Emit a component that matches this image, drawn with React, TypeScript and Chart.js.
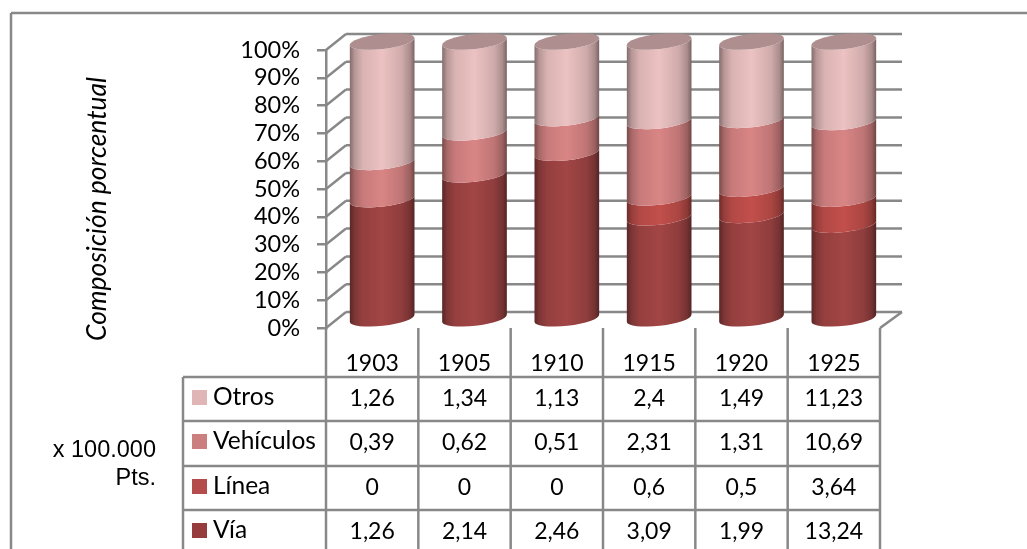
import React, { useEffect, useRef } from "react";
import { Chart, registerables } from "chart.js";

Chart.register(...registerables);

const years = ["1903", "1905", "1910", "1915", "1920", "1925"];
const otros = [1.26, 1.34, 1.13, 2.4, 1.49, 11.23];
const vehiculos = [0.39, 0.62, 0.51, 2.31, 1.31, 10.69];
const linea = [0, 0, 0, 0.6, 0.5, 3.64];
const via = [1.26, 2.14, 2.46, 3.09, 1.99, 13.24];

const yTitle = "Composición porcentual";
const unitLines = ["x 100.000", "Pts."];

// Table rows top to bottom; the columns stack in the reverse order.
const rows = [
  { label: "Otros", values: otros, swatch: "#e0b5b5", body: [236, 194, 194] },
  { label: "Vehículos", values: vehiculos, swatch: "#cb7f7f", body: [217, 133, 133] },
  { label: "Línea", values: linea, swatch: "#b34c4a", body: [194, 79, 75] },
  { label: "Vía", values: via, swatch: "#963c3c", body: [162, 69, 69] },
];
const stacked = [...rows].reverse();

const totals = years.map((_, i) => rows.reduce((sum, r) => sum + r.values[i], 0));
const share = (values: number[]) => values.map((v, i) => (v / totals[i]) * 100);

const LINE = "#888888";
const TEXT = "#000000";
const DEPTH_X = 20;
const DEPTH_Y = 16;
const BAR_SHIFT = 10;
const CAP_B = 7.5;
const CAP_TILT = -0.115;
const ROW_LINES = [377, 421, 466, 510];
const ROW_TEXT = [398, 442, 487, 531];
const LEGEND_LEFT = 183;

const SHADE: [number, number][] = [
  [0, 0.55],
  [0.08, 0.78],
  [0.2, 0.92],
  [0.5, 1],
  [0.8, 0.88],
  [0.93, 0.72],
  [1, 0.5],
];

function shaded(ctx: CanvasRenderingContext2D, l: number, r: number, rgb: number[]) {
  const g = ctx.createLinearGradient(l, 0, r, 0);
  SHADE.forEach(([stop, f]) => {
    const [a, b, c] = rgb.map((v) => Math.round(v * f));
    g.addColorStop(stop, `rgb(${a},${b},${c})`);
  });
  return g;
}

function segLine(ctx: CanvasRenderingContext2D, x1: number, y1: number, x2: number, y2: number) {
  ctx.beginPath();
  ctx.moveTo(x1, y1);
  ctx.lineTo(x2, y2);
  ctx.stroke();
}

const cylinderPlugin = {
  id: "cylinders",
  // Walls and floor sit behind the columns, which replace the flat bars.
  beforeDatasetsDraw(chart: any) {
    const { ctx, scales, chartArea } = chart;
    const y = scales.y;
    ctx.save();
    ctx.strokeStyle = LINE;
    ctx.lineWidth = 2.5;
    for (let v = 0; v <= 100; v += 10) {
      const py = y.getPixelForValue(v);
      segLine(ctx, chartArea.left, py, chartArea.left + DEPTH_X, py - DEPTH_Y);
      segLine(ctx, chartArea.left + DEPTH_X, py - DEPTH_Y, chartArea.right + DEPTH_X + 2, py - DEPTH_Y);
    }
    const floor = y.getPixelForValue(0);
    segLine(ctx, chartArea.right, floor, chartArea.right + DEPTH_X + 2, floor - DEPTH_Y);

    const metas = chart.getSortedVisibleDatasetMetas();
    metas.forEach((meta: any) => {
      const row = stacked[meta.index];
      meta.data.forEach((bar: any, i: number) => {
        if (row.values[i] === 0) return;
        const cx = bar.x + BAR_SHIFT;
        const a = bar.width / 2;
        const l = cx - a;
        const r = cx + a;
        const top = bar.y - 1 - CAP_B;
        const base = bar.base - 1 - CAP_B;
        ctx.beginPath();
        ctx.ellipse(cx, base, a, CAP_B, CAP_TILT, 0, Math.PI, false);
        ctx.ellipse(cx, top, a, CAP_B, CAP_TILT, Math.PI, 0, true);
        ctx.closePath();
        ctx.fillStyle = shaded(ctx, l, r, row.body);
        ctx.fill();
        if (meta.index === stacked.length - 1) {
          ctx.beginPath();
          ctx.ellipse(cx, top, a, CAP_B, CAP_TILT, 0, Math.PI * 2);
          ctx.fillStyle = "#ae8e8e";
          ctx.fill();
        }
      });
    });
    ctx.restore();
    return false;
  },
  // Frame, data table, legend keys and side captions.
  afterDraw(chart: any) {
    const { ctx, scales, chartArea } = chart;
    const x = scales.x;
    const bottom = chart.height;
    const band = (chartArea.right - chartArea.left) / years.length;
    ctx.save();
    ctx.strokeStyle = LINE;
    ctx.lineWidth = 2.5;
    segLine(ctx, 11, 13, chart.width, 13);
    segLine(ctx, 11, 13, 11, bottom);
    for (let i = 0; i <= years.length; i++) {
      const px = chartArea.left + band * i;
      segLine(ctx, px, chartArea.bottom, px, bottom);
    }
    segLine(ctx, LEGEND_LEFT, ROW_LINES[0], LEGEND_LEFT, bottom);
    ROW_LINES.forEach((py) => segLine(ctx, LEGEND_LEFT, py, chartArea.right, py));

    ctx.textBaseline = "middle";
    rows.forEach((row, r) => {
      ctx.fillStyle = row.swatch;
      ctx.fillRect(192, ROW_TEXT[r] - 8, 15, 15);
      ctx.fillStyle = TEXT;
      ctx.font = "24.5px Lato";
      ctx.textAlign = "left";
      ctx.fillText(row.label, 213, ROW_TEXT[r] - 1);
      ctx.font = "23px Lato";
      ctx.textAlign = "center";
      row.values.forEach((v, i) => {
        ctx.fillText(String(v).replace(".", ","), x.getPixelForTick(i), ROW_TEXT[r] + 1);
      });
    });

    ctx.font = "23.5px 'Liberation Sans'";
    ctx.textAlign = "right";
    unitLines.forEach((line, i) => ctx.fillText(line, 156, 451 + i * 28));

    ctx.translate(97, 209);
    ctx.rotate(-Math.PI / 2);
    ctx.font = "italic 26.4px Lato";
    ctx.textAlign = "center";
    ctx.fillText(yTitle, 0, 0);
    ctx.restore();
  },
};

export default function App() {
  const ref = useRef<HTMLCanvasElement>(null);

  useEffect(() => {
    const chart = new Chart(ref.current!, {
      type: "bar",
      data: {
        labels: years,
        datasets: stacked.map((r) => ({
          label: r.label,
          data: share(r.values),
          backgroundColor: r.swatch,
          stack: "total",
        })),
      },
      plugins: [cylinderPlugin],
      options: {
        responsive: false,
        animation: false,
        barPercentage: 0.705,
        categoryPercentage: 1,
        layout: { padding: { left: 0, top: 50, right: 147, bottom: 0 } },
        plugins: { legend: { display: false }, tooltip: { enabled: false } },
        scales: {
          x: {
            stacked: true,
            afterFit: (s: any) => {
              s.height = 221;
            },
            grid: { display: false },
            border: { display: false },
            ticks: {
              color: TEXT,
              font: { family: "Lato", size: 23 },
              padding: 14,
              maxRotation: 0,
              autoSkip: false,
            },
          },
          y: {
            stacked: true,
            min: 0,
            max: 100,
            afterFit: (s: any) => {
              s.width = 326;
            },
            grid: { drawOnChartArea: false, color: LINE, lineWidth: 2.5, tickLength: 9 },
            border: { color: LINE, width: 2.5 },
            ticks: {
              stepSize: 10,
              autoSkip: false,
              color: TEXT,
              font: { family: "Lato", size: 23.5 },
              padding: 17,
              callback: (v: any) => `${v}%`,
            },
          },
        },
      } as any,
    });
    return () => chart.destroy();
  }, []);

  return (
    <canvas
      ref={ref}
      width={1027}
      height={549}
      style={{ position: "absolute", left: 0, top: 0, display: "block" }}
    />
  );
}
